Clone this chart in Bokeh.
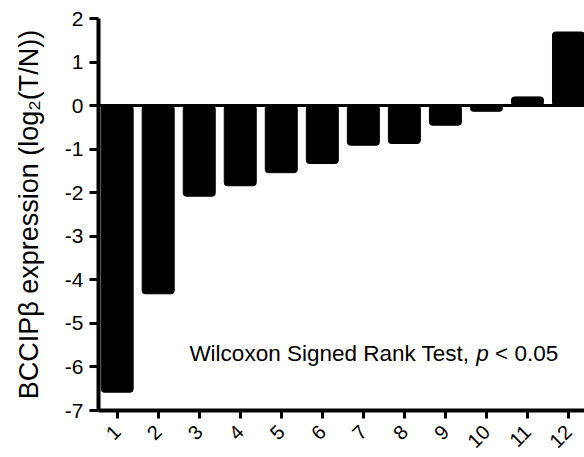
import math
from bokeh.plotting import figure
from bokeh.models import FixedTicker, Span, Label, Range1d
from bokeh.embed import file_html
from bokeh.resources import INLINE

# ---- data ----
samples = ["1", "2", "3", "4", "5", "6", "7", "8", "9", "10", "11", "12"]
expression = [-6.58, -4.32, -2.08, -1.84, -1.54, -1.33, -0.91, -0.87, -0.45, -0.13, 0.20, 1.69]
y_ticks = [-7, -6, -5, -4, -3, -2, -1, 0, 1, 2]
y_tick_labels = ["-7", "-6", "-5", "-4", "-3", "-2", "-1", "0", "1", "2"]
y_label = "BCCIP\u03b2 expression (log\u2082(T/N))"
note_main = "Wilcoxon Signed Rank Test, "
note_p = "p"
note_tail = "< 0.05"

xs = list(range(1, len(samples) + 1))
FONT = "Liberation Sans"

p = figure(width=584, height=457, output_backend="svg", toolbar_location=None,
           x_range=Range1d(0.545, 12.39), y_range=Range1d(-7, 2),
           min_border_left=98, min_border_right=0, min_border_top=18,
           background_fill_color="white", border_fill_color="white")
p.outline_line_color = None
p.grid.visible = False

p.vbar(x=xs, top=expression, bottom=0, width=0.78, fill_color="black",
       line_color="black", border_radius=3)

p.add_layout(Span(location=0, dimension="width", line_color="black", line_width=3))

# axes
p.yaxis.ticker = FixedTicker(ticks=y_ticks)
p.yaxis.major_label_overrides = {t: s for t, s in zip(y_ticks, y_tick_labels)}
p.yaxis.minor_tick_line_color = None
p.yaxis.major_tick_out = 9
p.yaxis.major_tick_in = 0
p.yaxis.major_tick_line_width = 3
p.yaxis.axis_line_width = 4
p.yaxis.major_label_text_font = FONT
p.yaxis.major_label_text_font_size = "21px"
p.yaxis.major_label_text_color = "black"
p.yaxis.major_label_standoff = 6
p.yaxis.axis_label = y_label
p.yaxis.axis_label_text_font = FONT
p.yaxis.axis_label_text_font_size = "27px"
p.yaxis.axis_label_text_font_style = "normal"
p.yaxis.axis_label_text_color = "black"
p.yaxis.axis_label_standoff = 18

p.xaxis.ticker = FixedTicker(ticks=xs)
p.xaxis.major_label_overrides = {x: s for x, s in zip(xs, samples)}
p.xaxis.minor_tick_line_color = None
p.xaxis.major_tick_out = 8
p.xaxis.major_tick_in = 0
p.xaxis.major_tick_line_width = 3
p.xaxis.axis_line_width = 4
p.xaxis.major_label_text_font = FONT
p.xaxis.major_label_text_font_size = "20px"
p.xaxis.major_label_text_color = "black"
p.xaxis.major_label_orientation = math.pi / 4
p.xaxis.major_label_standoff = 10

# annotation
fs = 22.5
common = dict(x=2.76, y=-5.70, text_baseline="middle", text_align="left",
              text_font=FONT, text_font_size=f"{fs}px", text_color="black")
p.add_layout(Label(text=note_main, **common))
p.add_layout(Label(text=note_p, x_offset=12.838 * fs - 2, text_font_style="italic", **common))
p.add_layout(Label(text=note_tail, x_offset=(12.838 + 0.556 + 0.278) * fs - 2, **common))

open("out.html", "w").write(file_html(p, INLINE))
